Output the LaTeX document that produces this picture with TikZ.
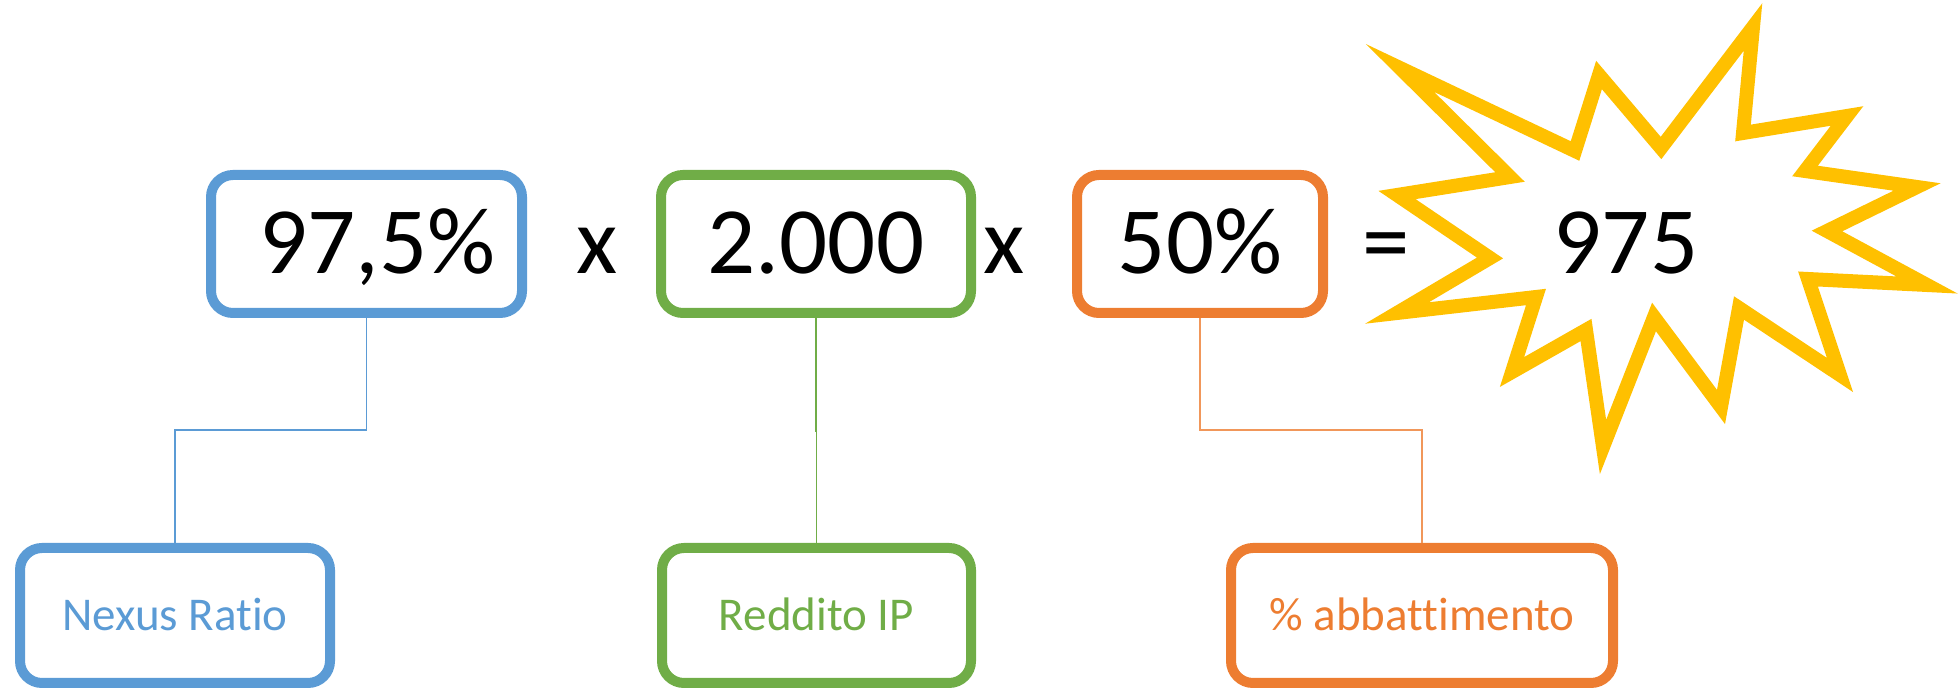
\documentclass[tikz,border=0pt]{standalone}
\usepackage{fontspec}
\setmainfont{Carlito}[Ligatures=NoCommon]
\definecolor{nexusblue}{HTML}{5B9BD5}
\definecolor{ipgreen}{HTML}{70AD47}
\definecolor{cutorange}{HTML}{ED7D31}
\definecolor{staryellow}{HTML}{FFC000}

\begin{document}
\begin{tikzpicture} [
						x=0.5pt, y=-0.5pt,
						box/.style={rectangle, rounded corners=11pt, line width=5pt, inner sep=0pt},
						termbox/.style={box, minimum height=69pt, font=\fontsize{47.5}{57}\selectfont, text height=30pt, text depth=0pt},
						namebox/.style={box, minimum height=67.5pt, font=\fontsize{23.5}{28}\selectfont, text height=15pt, text depth=0pt},
						sign/.style={inner sep=0pt, font=\fontsize{47.5}{57}\selectfont, text height=30pt, text depth=0pt},
						link/.style={line width=0.6pt}
					]

\useasboundingbox (0,0) rectangle (1960,688);

\node (ratio)   [termbox, draw=nexusblue, minimum width=155.5pt] at (366.5,244) {\ 97,5\%};
\node (times1)  [sign] at (597,244) {x};
\node (ip)      [termbox, draw=ipgreen, minimum width=155pt] at (816,244) {2.000};
\node (times2)  [sign] at (1004,244) {x};
\node (cut)     [termbox, draw=cutorange, minimum width=123pt] at (1200,244) {50\%};
\node (equals)  [sign] at (1386,244) {=};

\draw[staryellow, line width=7pt]
	(1400,68) -- (1575,151) -- (1599,75) -- (1661,148) -- (1753,27) -- (1743,133)
	-- (1847,116) -- (1805,171) -- (1917,187) -- (1827,231) -- (1927,285) -- (1808,279)
	-- (1840,375) -- (1739,308) -- (1721,407) -- (1654,317) -- (1603,447) -- (1586,330)
	-- (1512,372) -- (1536,297) -- (1397,313) -- (1490,258) -- (1397,195) -- (1510,177)
	-- cycle;
\node (result)  [sign] at (1626,244) {975};

\node (nexus)   [namebox, draw=nexusblue, text=nexusblue, minimum width=155pt] at (175,615.5) {Nexus Ratio};
\node (income)  [namebox, draw=ipgreen, text=ipgreen, minimum width=154.5pt] at (816.5,615.5) {Reddito IP};
\node (rebate)  [namebox, draw=cutorange, text=cutorange, minimum width=191pt] at (1422,615.5) {\% abbattimento};

\draw[link, nexusblue] (ratio.south) -- ++(0,112) -| (nexus.north);
\draw[link, ipgreen]   (ip.south) -- ++(0,113) -| (income.north);
\draw[link, cutorange!80!white] (cut.south) -- ++(0,112) -| (rebate.north);

\end{tikzpicture}
\end{document}
